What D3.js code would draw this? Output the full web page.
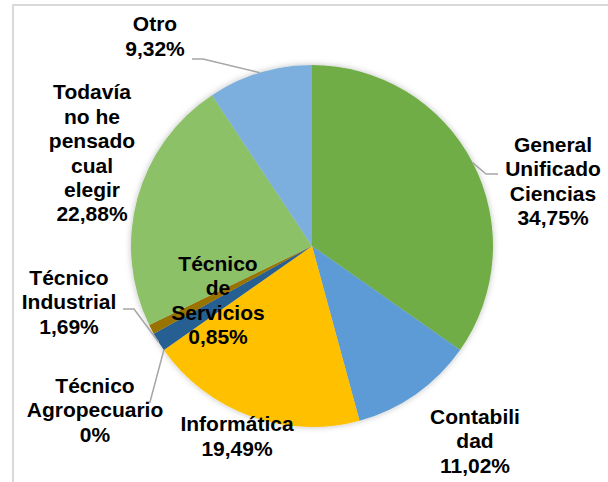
<!DOCTYPE html>
<html lang="es">
<head>
<meta charset="utf-8">
<title>Preferencia de bachillerato</title>
<script src="https://d3js.org/d3.v7.min.js"></script>
<style>
  body { margin: 0; background: #fff; }
  text { font-family: "Liberation Sans", Arial, sans-serif; font-weight: bold; }
</style>
</head>
<body>
<script>
// data
var categories = ["General Unificado Ciencias", "Contabilidad", "Informática",
                  "Técnico Agropecuario", "Técnico Industrial", "Técnico de Servicios",
                  "Todavía no he pensado cual elegir", "Otro"];
var values = [34.75, 11.02, 19.49, 0, 1.69, 0.85, 22.88, 9.32];
var labelLines = [["General", "Unificado", "Ciencias", "34,75%"],
                  ["Contabili", "dad", "11,02%"],
                  ["Informática", "19,49%"],
                  ["Técnico", "Agropecuario", "0%"],
                  ["Técnico", "Industrial", "1,69%"],
                  ["Técnico", "de", "Servicios", "0,85%"],
                  ["Todavía", "no he", "pensado", "cual", "elegir", "22,88%"],
                  ["Otro", "9,32%"]];
var colors = ["#70AD47", "#5B9BD5", "#FFC000", "#A5A5A5", "#255E91", "#997300", "#8CC168", "#7CAFDD"];

// layout
var w = 608, h = 482;
var cx = 312, cy = 246, r = 181;
var fontSize = 21, lineH = 24.4;
// label block centres, relative to pie centre
var labelPos = [[241, -65], [163, 195], [-75, 190], [-217, 164],
                [-243, 56], [-94, 54], [-220, -93], [-157, -210]];
// leader elbow + end, relative to pie centre (null = no leader)
var leaders = [[[174, -72], [186, -72]], null, null, [[-162, 156], [-166, 156]],
               [[-178, 63], [-189, 63]], null, null, [[-109, -187], [-120, -187]]];

var svg = d3.select("body").append("svg")
  .attr("width", w).attr("height", h);

// frame
svg.append("rect")
  .attr("x", 13).attr("y", 5)
  .attr("width", w).attr("height", h)
  .attr("fill", "none")
  .attr("stroke", "#D9D9D9").attr("stroke-width", 2);

var defs = svg.append("defs");
var f = defs.append("filter").attr("id", "shadow")
  .attr("x", "-10%").attr("y", "-10%").attr("width", "120%").attr("height", "120%");
f.append("feDropShadow").attr("dx", 0).attr("dy", 0)
  .attr("stdDeviation", 3).attr("flood-color", "#000").attr("flood-opacity", 0.25);

var pie = d3.pie().sort(null).value(function(d) { return d; });
var arcs = pie(values);
var arc = d3.arc().innerRadius(0).outerRadius(r);

var g = svg.append("g").attr("transform", "translate(" + cx + "," + cy + ")");

g.append("g").attr("filter", "url(#shadow)")
  .selectAll("path")
  .data(arcs)
  .enter()
  .append("path")
  .attr("d", arc)
  .attr("fill", function(d, i) { return colors[i]; });

// leader lines
arcs.forEach(function(d, i) {
  if (!leaders[i]) return;
  var a = (d.startAngle + d.endAngle) / 2;
  var p0 = [r * Math.sin(a), -r * Math.cos(a)];
  var pts = [p0].concat(leaders[i]);
  g.append("path")
    .attr("d", d3.line()(pts))
    .attr("fill", "none")
    .attr("stroke", "#A6A6A6")
    .attr("stroke-width", 1.5);
});

// labels
labelLines.forEach(function(lines, i) {
  var t = g.append("text")
    .attr("text-anchor", "middle")
    .attr("font-size", fontSize + "px")
    .attr("fill", "#000");
  var top = labelPos[i][1] - (lines.length - 1) * lineH / 2;
  lines.forEach(function(s, j) {
    t.append("tspan")
      .attr("x", labelPos[i][0])
      .attr("y", top + j * lineH)
      .attr("dy", "0.35em")
      .text(s);
  });
});
</script>
</body>
</html>
